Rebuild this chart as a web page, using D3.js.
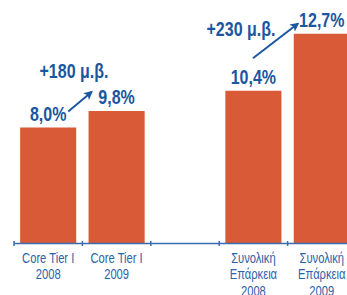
<!DOCTYPE html>
<html><head><meta charset="utf-8">
<script src="https://cdn.jsdelivr.net/npm/d3@7"></script>
<style>
html,body{margin:0;padding:0;background:#fff;overflow:hidden}
text{font-family:"Liberation Sans",Arial,sans-serif}
</style></head>
<body><svg id="c" width="347" height="295"></svg>
<script>
const categories = [["Core Tier I","2008"],["Core Tier I","2009"],[],["Συνολική","Επάρκεια","2008"],["Συνολική","Επάρκεια","2009"]];
const barValues = [7.7, 8.8, null, 10.15, 13.95];
const valueLabels = ["8,0%","9,8%","","10,4%","12,7%"];
const changeLabels = ["+180 μ.β.","+230 μ.β."];
const changePairs = [[0,1],[3,4]];

// layout (pixel offsets, not data)
const arrowLayout = [
  {sx:-8, sy:-16, ex:3, ey:-19, tx:74, ty:78},
  {sx:-28.5, sy:-32.5, ex:4, ey:-10, tx:241, ty:36}
];

const svg = d3.select("#c");
const base = 243;
const x = d3.scaleBand().domain(d3.range(categories.length)).range([14,356]).paddingInner(0.18).paddingOuter(0.09);
const y = d3.scaleLinear().domain([0,14]).range([base, 33]);
const orange = "#d95a36", blue = "#1a57a0", lblue = "#2b62a8";
const SX = 0.8;

function ctext(px, py, str, size, bold, fill){
  return svg.append("text").attr("transform",`translate(${px},${py}) scale(${SX},1)`)
    .attr("text-anchor","middle").attr("font-size",size).attr("font-weight",bold?"bold":"normal")
    .attr("fill",fill).text(str);
}

svg.append("defs").append("marker").attr("id","ah").attr("viewBox","0 0 10 10").attr("refX",8).attr("refY",5)
  .attr("markerWidth",4.5).attr("markerHeight",4.5).attr("markerUnits","strokeWidth").attr("orient","auto")
  .append("path").attr("d","M0,0L10,5L0,10L2.5,5Z").attr("fill",blue);

const idx = d3.range(categories.length).filter(i=>barValues[i]!=null);
svg.selectAll("rect.bar").data(idx).join("rect").attr("class","bar")
  .attr("x",i=>x(i)).attr("width",x.bandwidth())
  .attr("y",i=>y(barValues[i])).attr("height",i=>base-y(barValues[i])).attr("fill",orange);

idx.forEach(i=>ctext(x(i)+x.bandwidth()/2, y(barValues[i])-7, valueLabels[i], 20, true, blue));

// axis
const step = x.step();
svg.append("line").attr("x1",14).attr("x2",356).attr("y1",base+0.5).attr("y2",base+0.5).attr("stroke","#3a6cb0").attr("stroke-width",1.5);
const bounds = d3.range(categories.length+1).map(i=>14+i*step);
svg.selectAll("line.tk").data(bounds).join("line").attr("class","tk")
  .attr("x1",d=>d).attr("x2",d=>d).attr("y1",base-2).attr("y2",base+3).attr("stroke","#3a6cb0").attr("stroke-width",1.5);

categories.forEach((lines,i)=>{
  lines.forEach((l,k)=>ctext(x(i)+x.bandwidth()/2, 262.5+k*16.5, l, 14, false, lblue));
});

changePairs.forEach((p,j)=>{
  const L = arrowLayout[j];
  const x0 = x(p[0])+x.bandwidth(), x1 = x(p[1]);
  const yA = y(barValues[p[0]]), yB = y(barValues[p[1]]);
  svg.append("line").attr("x1",x0+L.sx).attr("y1",yA+L.sy).attr("x2",x1+L.ex).attr("y2",yB+L.ey)
    .attr("stroke",blue).attr("stroke-width",2).attr("marker-end","url(#ah)");
  ctext(L.tx, L.ty, changeLabels[j], 20, true, blue);
});
</script></body></html>
